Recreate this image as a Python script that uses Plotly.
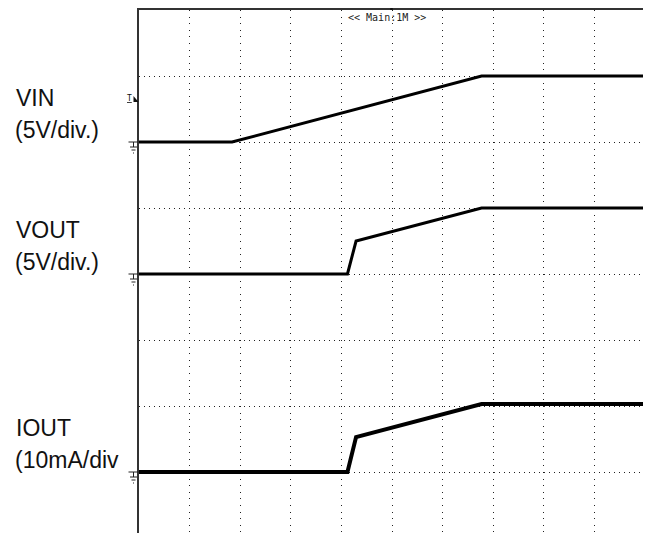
import plotly.graph_objects as go

# time axis in scope divisions (10 div across)
t_vin = [0.0, 1.84, 6.77, 10.0]
vin = [0.0, 0.0, 5.0, 5.0]          # volts, 5V/div

t_vout = [0.0, 4.12, 4.29, 6.77, 10.0]
vout = [0.0, 0.0, 2.5, 5.0, 5.0]    # volts, 5V/div

t_iout = [0.0, 4.12, 4.29, 6.77, 10.0]
iout = [0.0, 0.0, 5.3, 10.3, 10.3]  # mA, 10mA/div

channels = [
    ("VIN", "(5V/div.)", t_vin, vin, 5.0, 6.0, 3),
    ("VOUT", "(5V/div.)", t_vout, vout, 5.0, 4.0, 3),
    ("IOUT", "(10mA/div", t_iout, iout, 10.0, 1.0, 4),
]

# page body keeps its default 8px margin, so the figure sits 8px in
OFF = 8
W, H = 651 - OFF, 533 - OFF
# screen-pixel geometry of the scope frame
L, R, T = 138.5, 645.0, 10.0
DIV_PX = 66.0
Y_TOP = 8.0
Y_BOT = Y_TOP - (533 - T) / DIV_PX


def px(x):
    return (x - L) / (R - L)


def py(y):
    return 1 - (y - T) / (533 - T)


fig = go.Figure()
for name, unit, t, v, scale, offset, lw in channels:
    fig.add_trace(go.Scatter(
        x=t, y=[offset + val / scale for val in v], mode="lines",
        line=dict(color="black", width=lw), showlegend=False, hoverinfo="skip",
    ))

annotations = []
shapes = []
label_font = dict(family="Liberation Sans, Arial, sans-serif", size=23, color="#111")
for name, unit, t, v, scale, offset, lw in channels:
    gy = T + (Y_TOP - offset) * DIV_PX  # ground level in screen pixels
    annotations.append(dict(text=name, xref="paper", yref="paper", x=px(13), y=py(gy - 43.8),
                            xanchor="left", yanchor="middle", showarrow=False, font=label_font))
    annotations.append(dict(text=unit, xref="paper", yref="paper", x=px(12.5), y=py(gy - 12.4),
                            xanchor="left", yanchor="middle", showarrow=False, font=label_font))
    # ground symbol
    for x0, x1, dy in [(128, 138, 0), (129.5, 136.5, 5), (131, 135, 8), (132.5, 133.5, 11)]:
        shapes.append(dict(type="line", xref="paper", yref="paper", x0=px(x0), x1=px(x1),
                           y0=py(gy + dy), y1=py(gy + dy), line=dict(color="#222", width=1)))
    shapes.append(dict(type="line", xref="paper", yref="paper", x0=px(133), x1=px(133),
                       y0=py(gy), y1=py(gy + 5), line=dict(color="#222", width=1)))

# trigger level marker
annotations.append(dict(text="<u>T</u>", xref="paper", yref="paper", x=px(129), y=py(98),
                        xanchor="center", yanchor="middle", showarrow=False,
                        font=dict(family="DejaVu Sans Mono", size=8, color="#111")))
shapes.append(dict(type="path", xref="paper", yref="paper",
                   path="M %f,%f L %f,%f L %f,%f Z" % (px(133), py(96), px(138), py(102), px(133), py(102)),
                   fillcolor="#111", line=dict(width=0)))
# top marks
for x0, x1 in [(142, 147), (150, 155)]:
    shapes.append(dict(type="line", xref="paper", yref="paper", x0=px(x0), x1=px(x1),
                       y0=py(5.5), y1=py(5.5), line=dict(color="#333", width=1)))
shapes.append(dict(type="rect", xref="paper", yref="paper", x0=px(390), x1=px(392.5),
                   y0=py(7), y1=py(10), fillcolor="#111", line=dict(width=0)))

annotations.append(dict(text="<< Main:1M >>", xref="paper", yref="paper", x=px(386.5), y=py(18),
                        xanchor="center", yanchor="middle", showarrow=False,
                        font=dict(family="DejaVu Sans Mono", size=10, color="#222")))

fig.update_layout(
    width=W, height=H,
    margin=dict(l=L - OFF, r=651 - R, t=T - OFF, b=0, pad=0),
    plot_bgcolor="white", paper_bgcolor="white",
    xaxis=dict(range=[0, 10], tick0=0, dtick=1, showticklabels=False, ticks="",
               showgrid=True, gridcolor="#222", gridwidth=1, griddash="1px,5.6px",
               zeroline=False, showline=True, side="top", linecolor="#333", linewidth=1.5),
    yaxis=dict(range=[Y_BOT, Y_TOP], tick0=0, dtick=1, showticklabels=False, ticks="",
               showgrid=True, gridcolor="#222", gridwidth=1, griddash="1px,4px",
               zeroline=False, showline=True, mirror=True, linecolor="#333", linewidth=1.5),
    annotations=annotations, shapes=shapes,
)

fig.write_html("out.html")
